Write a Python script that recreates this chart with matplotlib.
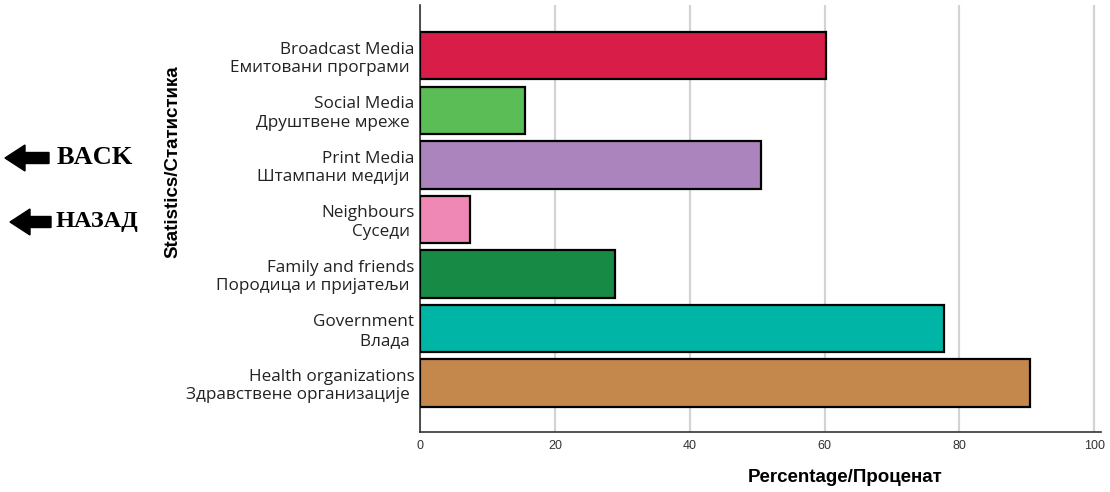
import matplotlib.pyplot as plt
from matplotlib.patches import FancyArrow
import numpy as np

# dane
kategorie = ["Broadcast Media\nЕмитовани програми ",
             "Social Media\nДруштвене мреже ",
             "Print Media\nШтампани медији ",
             "Neighbours\nСуседи ",
             "Family and friends\nПородица и пријатељи ",
             "Government\nВлада ",
             "Health organizations\nЗдравствене организације "]
procenty = [60.2, 15.6, 50.6, 7.4, 28.9, 77.7, 90.5]
kolory = ["#D81E48", "#5BBD55", "#AB84BE", "#EF88B4", "#178A45", "#00B5A5", "#C4884D"]
ticki = [0, 20, 40, 60, 80, 100]

fig = plt.figure(figsize=(11.1, 4.92), dpi=100)
ax = fig.add_axes([420 / 1110, 1 - 432 / 492, 681 / 1110, 427 / 492])

y = np.arange(len(kategorie))
ax.barh(y, procenty, height=0.87, color=kolory, edgecolor="black", linewidth=1.6, zorder=3)
ax.set_ylim(len(kategorie) - 1 + 0.9, -0.93)
ax.set_xlim(0, 101)

ax.set_yticks(y)
ax.set_yticklabels(kategorie, family=["Open Sans", "DejaVu Sans"], fontsize=12.3,
                   color="#222222", linespacing=1.2)
ax.set_xticks(ticki)
ax.set_xticklabels([str(t) for t in ticki], family="Liberation Sans",
                   fontsize=9, color="#333333")
ax.tick_params(length=0, pad=4)
ax.tick_params(axis="x", pad=6)
ax.grid(axis="x", color="#D3D3D3", linewidth=1.6, zorder=0)
for s in ["top", "right"]:
    ax.spines[s].set_visible(False)
ax.spines["left"].set_linewidth(1.2)
ax.spines["bottom"].set_linewidth(1.2)
ax.spines["left"].set_color("#333333")
ax.spines["bottom"].set_color("#333333")

# podpisy osi
fig.text(845 / 1110, 1 - 478 / 492, "Percentage/Проценат", ha="center", va="center",
         fontsize=13.5, fontweight="bold", family="Liberation Sans")
fig.text(173 / 1110, 1 - 162 / 492, "Statistics/Статистика", ha="center", va="center",
         rotation=90, fontsize=13.5, fontweight="bold", family="Liberation Sans")

# przyciski BACK / НАЗАД
W, H = 1110, 492
for x_tip, x_tail, yy in [(5, 49, 158), (10, 51, 222)]:
    fig.patches.append(FancyArrow((x_tail) / W, 1 - yy / H, -(x_tail - x_tip) / W, 0,
                                  width=11 / H, head_width=26 / H, head_length=20 / W,
                                  length_includes_head=True, color="black",
                                  transform=fig.transFigure, figure=fig))
fig.text(57 / W, 1 - 158 / H, "BACK", ha="left", va="center", fontsize=19,
         fontweight="bold", family="Liberation Serif")
fig.text(56 / W, 1 - 222 / H, "НАЗАД", ha="left", va="center", fontsize=17.5,
         fontweight="bold", family="Liberation Serif")

fig.savefig("out.png", dpi=100)
